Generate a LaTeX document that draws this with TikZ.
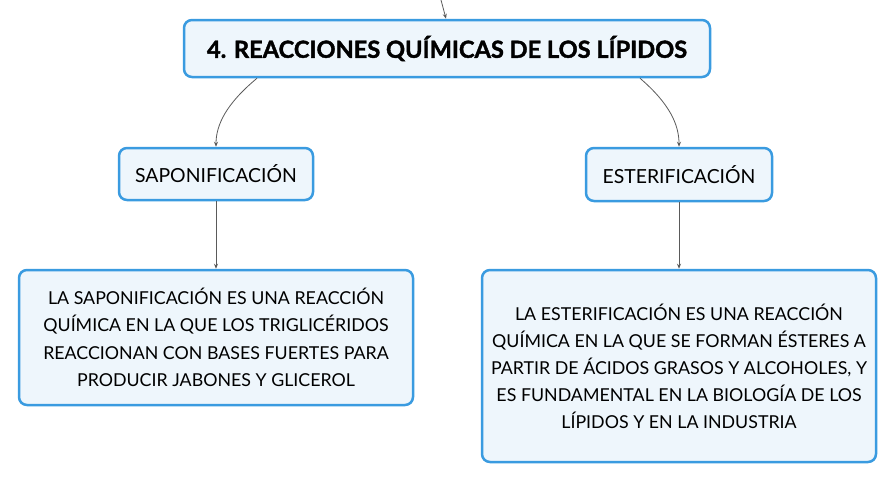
\documentclass[tikz,border=0pt]{standalone}
\usepackage{fontspec}
\setmainfont{Lato}
\usetikzlibrary{arrows.meta}
\definecolor{boxblue}{RGB}{58,155,224}
\definecolor{boxfill}{RGB}{238,246,252}
\definecolor{linegray}{RGB}{90,90,90}
\begin{document}
\begin{tikzpicture}[x=1pt,y=-1pt,
  box/.style={draw=boxblue,fill=boxfill,line width=2.5pt,rounded corners=8pt,inner sep=0pt,align=center,text=black},
  conn/.style={draw=linegray,line width=0.8pt,-{Stealth[length=5pt,width=4pt]}}]
\useasboundingbox (0,0) rectangle (896,483);
\node[box,minimum width=526pt,minimum height=57pt,font=\fontsize{23.6}{28}\selectfont\bfseries\addfontfeature{FakeBold=1.6}] (main) at (447,48.5) {4. REACCIONES QUÍMICAS DE LOS LÍPIDOS};
\node[box,minimum width=194pt,minimum height=52pt,font=\fontsize{19.4}{22}\selectfont] (sap) at (216,174) {SAPONIFICACIÓN};
\node[box,minimum width=186pt,minimum height=53pt,font=\fontsize{19.4}{22}\selectfont] (est) at (679,174.5) {ESTERIFICACIÓN};
\node[box,minimum width=394pt,minimum height=135pt,font=\fontsize{17.8}{27.5}\selectfont] (sapd) at (216,337.5) {LA SAPONIFICACIÓN ES UNA REACCIÓN\\QUÍMICA EN LA QUE LOS TRIGLICÉRIDOS\\REACCIONAN CON BASES FUERTES PARA\\PRODUCIR JABONES Y GLICEROL};
\node[box,minimum width=394pt,minimum height=192pt,font=\fontsize{17.8}{27}\selectfont] (estd) at (679,366) {LA ESTERIFICACIÓN ES UNA REACCIÓN\\QUÍMICA EN LA QUE SE FORMAN ÉSTERES A\\PARTIR DE ÁCIDOS GRASOS Y ALCOHOLES, Y\\ES FUNDAMENTAL EN LA BIOLOGÍA DE LOS\\LÍPIDOS Y EN LA INDUSTRIA};
\coordinate (top) at (441,0);
\draw[conn] (top) -- (main.north -| 446,0);
\draw[conn] ([xshift=-190pt]main.south) .. controls (226,104) and (216,125) .. (sap.north);
\draw[conn] ([xshift=193pt]main.south) .. controls (670,104) and (679,125) .. (est.north);
\draw[conn] (sap.south) -- (sapd.north);
\draw[conn] (est.south) -- (estd.north);
\end{tikzpicture}
\end{document}
